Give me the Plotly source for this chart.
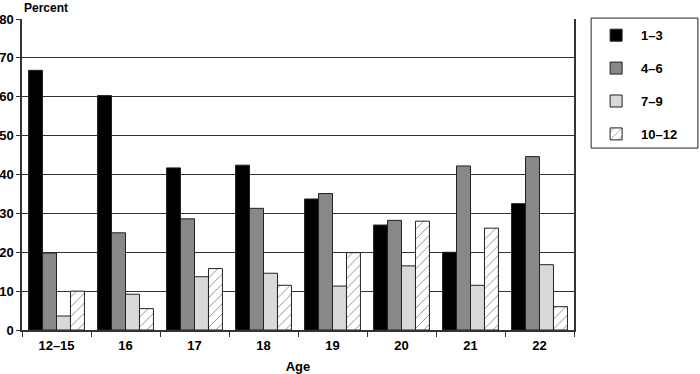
import plotly.graph_objects as go

ages = ["12–15", "16", "17", "18", "19", "20", "21", "22"]
series_names = ["1–3", "4–6", "7–9", "10–12"]
s_1_3 = [66.8, 60.3, 41.7, 42.4, 33.7, 27.0, 20.0, 32.5]
s_4_6 = [19.8, 25.0, 28.6, 31.3, 35.1, 28.2, 42.2, 44.6]
s_7_9 = [3.6, 9.2, 13.7, 14.6, 11.3, 16.5, 11.5, 16.8]
s_10_12 = [10.0, 5.5, 15.8, 11.5, 19.9, 28.0, 26.2, 6.0]
y_ticks = [0, 10, 20, 30, 40, 50, 60, 70, 80]

font_family = "Liberation Sans, Arial, sans-serif"
fig = go.Figure()
styles = [
    dict(color="#000000"),
    dict(color="#888888"),
    dict(color="#d9d9d9"),
    dict(color="#ffffff", pattern=dict(shape="/", fgcolor="#000000", bgcolor="#ffffff", size=7, solidity=0.12)),
]
for i, (name, vals) in enumerate(zip(series_names, [s_1_3, s_4_6, s_7_9, s_10_12])):
    fig.add_trace(go.Bar(
        x=ages, y=vals, name=name, legendgroup=name,
        marker=dict(**styles[i], line=dict(color="#222222", width=1)),
    ))

fig.update_layout(
    width=700, height=374,
    margin=dict(l=22, r=126, t=19, b=44, autoexpand=False),
    paper_bgcolor="white", plot_bgcolor="white",
    barmode="group", bargap=0.19, bargroupgap=0,
    font=dict(family=font_family, size=12, color="black"),
    legend=dict(
        x=1.031, y=0.996, xanchor="left", yanchor="top",
        bgcolor="rgba(0,0,0,0)", borderwidth=0,
        font=dict(family=font_family, size=13, color="black", weight="bold"),
        tracegroupgap=13, itemwidth=40,
    ),
    xaxis=dict(
        type="category", tickson="boundaries", ticks="outside", ticklen=5,
        tickcolor="#333333", showline=True, linecolor="#333333", linewidth=1.5,
        tickfont=dict(family=font_family, size=13, weight="bold"), ticklabelstandoff=3,
        title=dict(text="<b>Age</b>", font=dict(family=font_family, size=13), standoff=11),
        showgrid=False, automargin=False,
    ),
    yaxis=dict(
        range=[0, 80], tickvals=y_ticks, ticks="outside", ticklen=4,
        tickcolor="#333333", showline=True, linecolor="#333333", linewidth=1.5, mirror=True,
        showgrid=True, gridcolor="#333333", gridwidth=1,
        tickfont=dict(family=font_family, size=13, weight="bold"),
        zeroline=False, automargin=False,
    ),
    annotations=[dict(
        text="<b>Percent</b>", xref="paper", yref="paper", x=0, y=1, yshift=2,
        xanchor="left", yanchor="bottom", showarrow=False,
        font=dict(family=font_family, size=12),
    )],
    shapes=[dict(
        type="rect", xref="paper", yref="paper",
        x0=1.031, x1=1.2245, y0=0.585, y1=1.003,
        line=dict(color="#222222", width=1), fillcolor="rgba(0,0,0,0)", layer="below",
    )],
)

fig.write_html("out.html", config={"displayModeBar": False},
               post_script="document.body.style.margin='0';")
